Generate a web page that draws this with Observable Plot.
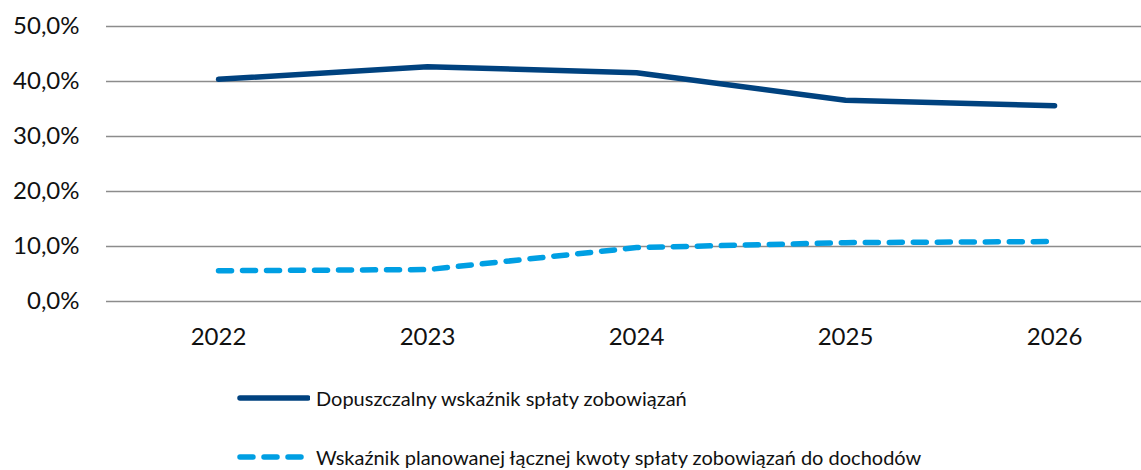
<!DOCTYPE html>
<html><head><meta charset="utf-8">
<script src="https://cdn.jsdelivr.net/npm/d3@7"></script>
<script src="https://cdn.jsdelivr.net/npm/@observablehq/plot@0.6"></script>
<style>
body{margin:0;background:#fff;font-family:Lato,"Open Sans",sans-serif;}
#legend{position:relative;height:110px;}
.lg{position:absolute;left:237px;display:flex;align-items:center;font-size:20px;color:#111;}
.lg svg{margin-right:6px;}
</style>
</head><body>
<div id="chart"></div>
<div id="legend"></div>
<script>
const years = [2022, 2023, 2024, 2025, 2026];
const dopuszczalny = [40.4, 42.7, 41.6, 36.6, 35.6];
const planowany = [5.6, 5.8, 9.8, 10.7, 10.9];
const yTicks = [0, 10, 20, 30, 40, 50];
const seriesNames = ["Dopuszczalny wskaźnik spłaty zobowiązań", "Wskaźnik planowanej łącznej kwoty spłaty zobowiązań do dochodów"];
const seriesColors = ["#00427f", "#009fe3"];

const data = [
  ...years.map((y, i) => ({year: y, value: dopuszczalny[i], series: seriesNames[0]})),
  ...years.map((y, i) => ({year: y, value: planowany[i], series: seriesNames[1]}))
];

const fmt = d => d.toFixed(1).replace(".", ",") + "%";

const chart = Plot.plot({
  width: 1141,
  height: 360,
  marginLeft: 106,
  marginRight: 0,
  marginTop: 26,
  marginBottom: 59,
  style: {fontFamily: "Lato, 'Open Sans', sans-serif", background: "#fff", color: "#111"},
  x: {type: "linear", domain: [2021.464, 2026.416]},
  y: {domain: [0, 50]},
  marks: [
    Plot.ruleY(yTicks, {stroke: "#8c8c8c", strokeWidth: 1.6}),
    Plot.axisY({ticks: yTicks, tickSize: 0, tickPadding: 27, tickFormat: fmt, fontSize: 24, label: null}),
    Plot.axisX({ticks: years, tickSize: 0, tickPadding: 26, tickFormat: d => String(d), fontSize: 24, label: null}),
    Plot.line(data.filter(d => d.series === seriesNames[0]), {x: "year", y: "value", stroke: seriesColors[0], strokeWidth: 5.5, strokeLinecap: "round", strokeLinejoin: "round"}),
    Plot.line(data.filter(d => d.series === seriesNames[1]), {x: "year", y: "value", stroke: seriesColors[1], strokeWidth: 5.5, strokeLinecap: "round", strokeLinejoin: "round", strokeDasharray: "13,11"})
  ]
});
document.getElementById("chart").appendChild(chart);

const legend = document.getElementById("legend");
const tops = [38, 97];
seriesNames.forEach((name, i) => {
  const row = document.createElement("div");
  row.className = "lg";
  row.style.top = (tops[i] - 12) + "px";
  row.style.height = "24px";
  const dash = i === 1 ? 'stroke-dasharray="13,11"' : "";
  row.innerHTML = `<svg width="73" height="12"><line x1="3" y1="6" x2="${i===1?67:71}" y2="6" stroke="${seriesColors[i]}" stroke-width="5.5" stroke-linecap="round" ${dash}/></svg><span>${name}</span>`;
  legend.appendChild(row);
});
</script>
</body></html>
